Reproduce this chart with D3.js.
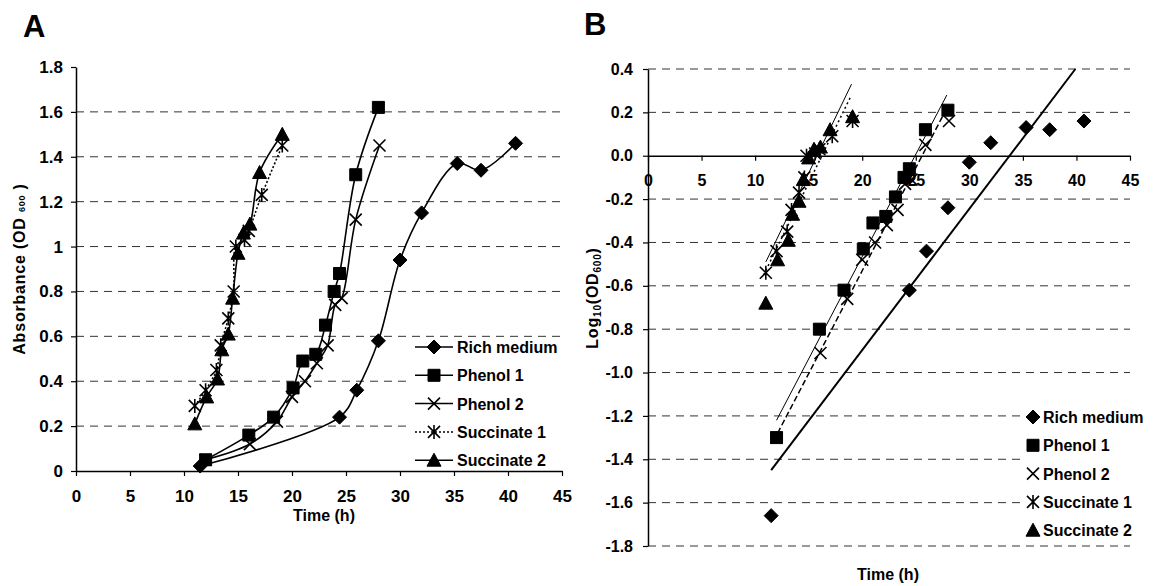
<!DOCTYPE html>
<html>
<head>
<meta charset="utf-8">
<script src="https://cdn.jsdelivr.net/npm/d3@7"></script>
<style>
  body { margin: 0; background: #fff; }
  svg { font-family: "Liberation Sans", Arial, sans-serif; font-weight: bold; }
</style>
</head>
<body>
<div id="chart"></div>
<script>
// series (time in h, OD600 and log10 OD600)
const seriesNames = ['Rich medium', 'Phenol 1', 'Phenol 2', 'Succinate 1', 'Succinate 2'];
const seriesMarkers = ['diamond', 'square', 'cross', 'asterisk', 'triangle'];

const richTime = [11.5, 24.4, 26, 28, 30, 32, 35.3, 37.5, 40.7];
const richOD = [0.022, 0.24, 0.36, 0.58, 0.94, 1.15, 1.37, 1.34, 1.46];
const richLog = [-1.66, -0.62, -0.44, -0.24, -0.03, 0.06, 0.13, 0.12, 0.16];

const phenol1Time = [12, 16, 18.3, 20.1, 21, 22.2, 23.1, 23.9, 24.4, 25.9, 28];
const phenol1OD = [0.05, 0.16, 0.24, 0.37, 0.49, 0.52, 0.65, 0.80, 0.88, 1.32, 1.62];
const phenol1Log = [-1.30, -0.80, -0.62, -0.43, -0.31, -0.28, -0.19, -0.10, -0.06, 0.12, 0.21];

const phenol2Time = [12, 16.1, 18.6, 20, 21.2, 22.3, 23.3, 24, 24.6, 25.9, 28.1];
const phenol2OD = [0.05, 0.12, 0.22, 0.33, 0.40, 0.48, 0.56, 0.74, 0.77, 1.12, 1.45];
const phenol2Log = [-1.30, -0.91, -0.66, -0.48, -0.40, -0.32, -0.25, -0.13, -0.11, 0.05, 0.16];

const succ1Time = [11, 12, 13, 13.4, 14.1, 14.6, 14.8, 15.6, 16, 17.2, 19.1];
const succ1OD = [0.29, 0.36, 0.45, 0.56, 0.68, 0.80, 1.0, 1.03, 1.07, 1.23, 1.45];
const succ1Log = [-0.54, -0.44, -0.35, -0.25, -0.17, -0.10, 0.0, 0.01, 0.03, 0.09, 0.16];

const succ2Time = [11, 12.1, 13.1, 13.5, 14.1, 14.5, 15, 15.5, 16.1, 17, 19.1];
const succ2OD = [0.21, 0.33, 0.41, 0.54, 0.61, 0.77, 0.97, 1.06, 1.10, 1.33, 1.50];
const succ2Log = [-0.68, -0.48, -0.39, -0.27, -0.21, -0.11, -0.01, 0.03, 0.04, 0.12, 0.18];

// fitted lines of panel B, end points as drawn
const trendRich = [[11.5, -1.45], [39.9, 0.40]];
const trendPhenol1 = [[12.0, -1.22], [27.9, 0.28]];
const trendPhenol2 = [[12.1, -1.28], [27.8, 0.21]];
const trendSucc1 = [[10.8, -0.55], [18.9, 0.27]];
const trendSucc2 = [[11.0, -0.49], [19.0, 0.33]];

const xTicks = [0, 5, 10, 15, 20, 25, 30, 35, 40, 45];
const yTicksA = [0, 0.2, 0.4, 0.6, 0.8, 1, 1.2, 1.4, 1.6, 1.8];
const yTicksB = [-1.8, -1.6, -1.4, -1.2, -1.0, -0.8, -0.6, -0.4, -0.2, 0.0, 0.2, 0.4];

const times = [richTime, phenol1Time, phenol2Time, succ1Time, succ2Time];
const ods = [richOD, phenol1OD, phenol2OD, succ1OD, succ2OD];
const logs = [richLog, phenol1Log, phenol2Log, succ1Log, succ2Log];
const trends = [trendRich, trendPhenol1, trendPhenol2, trendSucc1, trendSucc2];
const trendDash = [null, null, '6,3', '2,3', null];
const trendWidth = [2, 1, 1.5, 1.5, 1];
const lineDashA = [null, null, null, '2,2', null];

const svg = d3.select('#chart')
  .append('svg')
  .attr('width', 1153)
  .attr('height', 586);

const markerPath = (type) => {
  if (type === 'diamond') return 'M0,-7L7,0L0,7L-7,0Z';
  if (type === 'square') return 'M-6,-6H6V6H-6Z';
  if (type === 'triangle') return 'M0,-7L7,6H-7Z';
  if (type === 'cross') return 'M-6,-6L6,6M-6,6L6,-6';
  return 'M-6,-6L6,6M-6,6L6,-6M0,-7V7';
};

const drawMarker = (g, type, x, y) => {
  const filled = type === 'diamond' || type === 'square' || type === 'triangle';
  g.append('path')
    .attr('d', markerPath(type))
    .attr('transform', `translate(${x},${y})`)
    .attr('fill', filled ? '#000' : 'none')
    .attr('stroke', '#000')
    .attr('stroke-width', filled ? 1 : 1.6);
};

const grid = (g, x, y, ticks) => {
  g.selectAll('line.grid')
    .data(ticks)
    .enter()
    .append('line')
    .classed('grid', true)
    .attr('x1', x.range()[0])
    .attr('x2', x.range()[1])
    .attr('y1', d => y(d))
    .attr('y2', d => y(d))
    .attr('stroke', '#333')
    .attr('stroke-width', 1)
    .attr('stroke-dasharray', '8,6');
};

const styleAxis = (g, size) => {
  g.selectAll('path.domain').attr('stroke', '#000').attr('stroke-width', 1.5);
  g.selectAll('.tick line').attr('stroke', '#000').attr('stroke-width', 1.2);
  g.selectAll('text')
    .attr('font-size', size)
    .attr('font-weight', 'bold')
    .attr('font-family', '"Liberation Sans", Arial, sans-serif')
    .attr('fill', '#000');
};

const legend = (g, x0, y0, step, withLine) => {
  seriesNames.forEach((name, i) => {
    const y = y0 + i * step;
    if (withLine) {
      g.append('line')
        .attr('x1', x0 - 19).attr('x2', x0 + 19)
        .attr('y1', y).attr('y2', y)
        .attr('stroke', '#000')
        .attr('stroke-width', 1.5)
        .attr('stroke-dasharray', lineDashA[i]);
    }
    drawMarker(g, seriesMarkers[i], x0, y);
    g.append('text')
      .attr('x', x0 + (withLine ? 23 : 10))
      .attr('y', y + 6)
      .attr('font-size', 16)
      .text(name);
  });
};

// ---------- panel A ----------
const xA = d3.scaleLinear().domain([0, 45]).range([76, 562]);
const yA = d3.scaleLinear().domain([0, 1.8]).range([471, 67]);

const gA = svg.append('g');
grid(gA, xA, yA, yTicksA.filter(d => d > 0 && d < 1.8));

gA.append('g')
  .attr('transform', 'translate(0,' + yA(0) + ')')
  .call(d3.axisBottom(xA).tickValues(xTicks).tickSize(5).tickPadding(14).tickSizeOuter(0))
  .call(g => styleAxis(g, 17));

gA.append('g')
  .attr('transform', 'translate(' + xA(0) + ',0)')
  .call(d3.axisLeft(yA).tickValues(yTicksA).tickSize(5).tickPadding(8).tickSizeOuter(0)
    .tickFormat(d => String(+d.toFixed(1))))
  .call(g => styleAxis(g, 17));

const lineA = d3.line()
  .x(d => xA(d[0]))
  .y(d => yA(d[1]))
  .curve(d3.curveCatmullRom.alpha(0.5));

seriesNames.forEach((name, i) => {
  const pts = times[i].map((t, j) => [t, ods[i][j]]);
  gA.append('path')
    .attr('d', lineA(pts))
    .attr('fill', 'none')
    .attr('stroke', '#000')
    .attr('stroke-width', 1.6)
    .attr('stroke-dasharray', lineDashA[i]);
});
seriesNames.forEach((name, i) => {
  times[i].forEach((t, j) => drawMarker(gA, seriesMarkers[i], xA(t), yA(ods[i][j])));
});

gA.append('rect')
  .attr('x', 408).attr('y', 338).attr('width', 153).attr('height', 130)
  .attr('fill', '#fff');
legend(gA, 434, 347, 28.3, true);

gA.append('text')
  .attr('x', 23).attr('y', 37)
  .attr('font-size', 31)
  .text('A');

gA.append('text')
  .attr('x', 324).attr('y', 521)
  .attr('text-anchor', 'middle')
  .attr('font-size', 16)
  .text('Time (h)');

const titleA = gA.append('text')
  .attr('transform', 'translate(25,269) rotate(-90)')
  .attr('text-anchor', 'middle')
  .attr('font-size', 16)
  .attr('letter-spacing', 0.8);
titleA.append('tspan').text('Absorbance (OD ');
titleA.append('tspan').attr('font-size', 9).text('600');
titleA.append('tspan').text(' )');

// ---------- panel B ----------
const xB = d3.scaleLinear().domain([0, 45]).range([648, 1130]);
const yB = d3.scaleLinear().domain([-1.8, 0.4]).range([546, 69]);

const gB = svg.append('g');
grid(gB, xB, yB, yTicksB.filter(d => d !== 0));

gB.append('g')
  .attr('transform', 'translate(0,' + yB(0) + ')')
  .call(d3.axisBottom(xB).tickValues(xTicks).tickSize(5).tickPadding(14).tickSizeOuter(0))
  .call(g => styleAxis(g, 16));

gB.append('g')
  .attr('transform', 'translate(' + xB(0) + ',0)')
  .call(d3.axisLeft(yB).tickValues(yTicksB).tickSize(5).tickPadding(10).tickSizeOuter(0)
    .tickFormat(d => d3.format('.1f')(d).replace('\u2212', '-')))
  .call(g => styleAxis(g, 16));

const lineB = d3.line()
  .x(d => xB(d[0]))
  .y(d => yB(d[1]));

trends.forEach((pts, i) => {
  gB.append('path')
    .attr('d', lineB(pts))
    .attr('fill', 'none')
    .attr('stroke', '#000')
    .attr('stroke-width', trendWidth[i])
    .attr('stroke-dasharray', trendDash[i]);
});
seriesNames.forEach((name, i) => {
  times[i].forEach((t, j) => drawMarker(gB, seriesMarkers[i], xB(t), yB(logs[i][j])));
});

gB.append('rect')
  .attr('x', 1024).attr('y', 404).attr('width', 129).attr('height', 137)
  .attr('fill', '#fff');
legend(gB, 1033, 417, 28.3, false);

gB.append('text')
  .attr('x', 584).attr('y', 35)
  .attr('font-size', 31)
  .text('B');

gB.append('text')
  .attr('x', 888).attr('y', 580)
  .attr('text-anchor', 'middle')
  .attr('font-size', 16)
  .text('Time (h)');

const titleB = gB.append('text')
  .attr('transform', 'translate(598,298) rotate(-90)')
  .attr('text-anchor', 'middle')
  .attr('font-size', 16)
  .attr('letter-spacing', 0.8);
titleB.append('tspan').text('Log');
titleB.append('tspan').attr('font-size', 10).attr('dy', 3).text('10');
titleB.append('tspan').attr('dy', -3).text('(OD');
titleB.append('tspan').attr('font-size', 10).attr('dy', 3).text('600');
titleB.append('tspan').attr('dy', -3).text(')');
</script>
</body>
</html>
